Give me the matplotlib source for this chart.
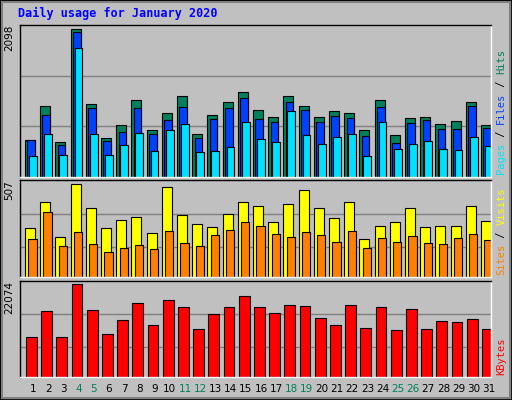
import matplotlib
matplotlib.use("Agg")
import matplotlib.pyplot as plt
from matplotlib.patches import Rectangle
import numpy as np

days = list(range(1, 32))
weekend = [4, 5, 11, 12, 18, 19, 25, 26]
hits = [524, 1011, 496, 2098, 1040, 553, 739, 1097, 667, 911, 1144, 610, 882, 1059, 1202, 954, 854, 1154, 1011, 854, 940, 911, 667, 1097, 596, 839, 854, 753, 796, 1059, 739]
files = [524, 882, 453, 2055, 982, 510, 639, 982, 610, 811, 996, 553, 825, 982, 1125, 825, 782, 1068, 954, 782, 868, 839, 582, 996, 482, 768, 811, 682, 682, 1011, 696]
pages = [296, 611, 310, 1840, 611, 310, 453, 625, 367, 668, 753, 353, 367, 424, 782, 539, 496, 939, 596, 467, 567, 611, 296, 782, 396, 467, 510, 396, 381, 567, 439]
visits = [270, 413, 220, 507, 380, 270, 314, 331, 242, 491, 341, 292, 276, 347, 408, 391, 303, 402, 475, 375, 325, 408, 209, 281, 303, 380, 276, 281, 281, 391, 308]
sites = [209, 358, 171, 248, 182, 138, 160, 176, 154, 253, 187, 171, 231, 259, 303, 281, 237, 220, 248, 231, 193, 253, 160, 215, 193, 226, 187, 182, 215, 237, 204]
kbytes = [9506, 15790, 9506, 22074, 16032, 10231, 13614, 17724, 12406, 18449, 16757, 11439, 15065, 16757, 19416, 16757, 15307, 17241, 16999, 14098, 12406, 17241, 11681, 16757, 11197, 16274, 11439, 13372, 13131, 13856, 11439]

BG = "#C0C0C0"
fig = plt.figure(figsize=(5.12, 4.0), dpi=100, facecolor=BG)
W, H = 512, 400
fig.patches.append(Rectangle((0, 0), 1, 1, transform=fig.transFigure, fill=False, ec="#000000", lw=2))
fig.patches.append(Rectangle((2/W, 2/H), 508/W, 396/H, transform=fig.transFigure, fill=False, ec="#808080", lw=1.5))
fig.text(18/W, 1 - 13/H, "Daily usage for January 2020", color="#0000FF", fontsize=8.5,
         family="DejaVu Sans Mono", fontweight="bold", va="center")

def mkax(top, bot):
    ax = fig.add_axes([20/W, 1 - bot/H, 471/W, (bot - top)/H])
    ax.set_facecolor(BG)
    ax.set_xlim(0.145, 31.13)
    ax.set_xticks([]); ax.set_yticks([])
    for s in ax.spines.values():
        s.set_color("black"); s.set_linewidth(1)
    ax.spines["right"].set_color("white"); ax.spines["bottom"].set_color("white")
    return ax

x = np.array(days)
px = 1 / 15.2
kw = dict(align="edge", edgecolor="black", linewidth=0.8)

ax1 = mkax(25, 177)
ax1.set_ylim(0, 2160)
for g in (720, 1440):
    ax1.axhline(g, color="#808080", lw=1, zorder=0)
ax1.bar(x - 8*px, hits, width=10*px, color="#00805C", **kw)
ax1.bar(x - 5.7*px, files, width=7.7*px, color="#0040FF", **kw)
ax1.bar(x - 4*px, pages, width=7.7*px, color="#00E0FF", **kw)

ax2 = mkax(180, 277)
ax2.set_ylim(0, 531)
for g in (165, 347):
    ax2.axhline(g, color="#808080", lw=1, zorder=0)
ax2.bar(x - 8*px, visits, width=10*px, color="#FFFF00", **kw)
ax2.bar(x - 4.7*px, sites, width=8.3*px, color="#FF8000", **kw)

ax3 = mkax(281, 377)
ax3.set_ylim(0, 22879)
for g in (7090, 15065):
    ax3.axhline(g, color="#808080", lw=1, zorder=0)
ax3.bar(x - 7*px, kbytes, width=10.7*px, color="#FF0000", **kw)

for d in days:
    ax3.text(d, -0.13, str(d), transform=ax3.get_xaxis_transform(), ha="center", va="center",
             fontsize=7.5, color="#00805C" if d in weekend else "black")

# left max labels
for ax, lab in ((ax1, "2098"), (ax2, "507"), (ax3, "22074")):
    ax.text(-0.022, 1.0, lab, transform=ax.transAxes, rotation=90, ha="center", va="top", fontsize=7.5)

def rlabel(ax, parts):
    y = 0.0
    tr = ax.transAxes
    # build from bottom upward
    fig.canvas.draw()
    r = fig.canvas.get_renderer()
    pos = 0.02
    for txt, col in parts:
        t = ax.text(1.022, pos, txt, transform=tr, rotation=90, ha="center", va="bottom",
                    fontsize=7.5, color=col, family="DejaVu Sans Mono")
        bb = t.get_window_extent(r)
        pos += bb.height / ax.get_window_extent(r).height

rlabel(ax1, [("Pages", "#00E0FF"), (" / ", "black"), ("Files", "#0040FF"), (" / ", "black"), ("Hits", "#00805C")])
rlabel(ax2, [("Sites", "#FF8000"), (" / ", "black"), ("Visits", "#FFFF00")])
rlabel(ax3, [("KBytes", "#FF0000")])

fig.savefig("out.png", dpi=100, facecolor=BG)
